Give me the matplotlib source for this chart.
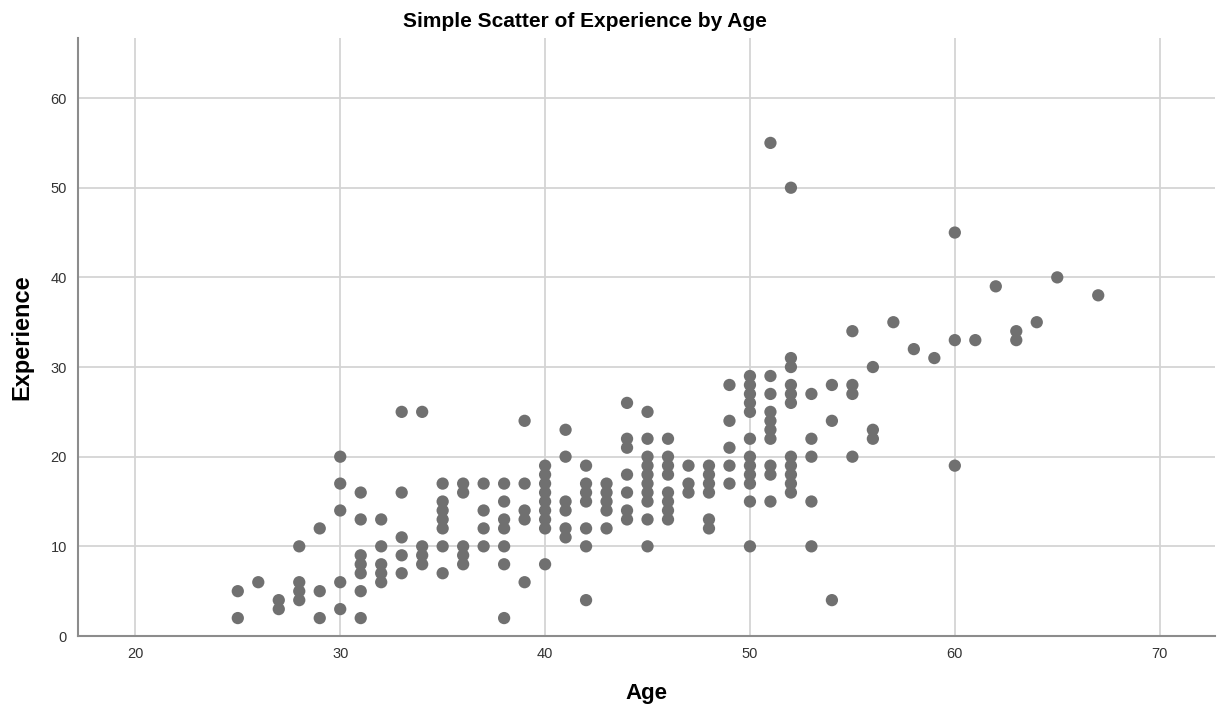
import matplotlib
matplotlib.use('Agg')
import matplotlib.pyplot as plt

plt.rcParams['font.family'] = ['Liberation Sans', 'DejaVu Sans']

# points per age: (age, [experience values])
ages_exp = [
    (25, [5, 2]),
    (26, [6]),
    (27, [4, 3]),
    (28, [10, 6, 5, 4]),
    (29, [12, 5, 2]),
    (30, [20, 17, 14, 6, 3]),
    (31, [16, 13, 9, 8, 7, 5, 2]),
    (32, [13, 10, 8, 7, 6]),
    (33, [25, 16, 11, 9, 7]),
    (34, [25, 10, 9, 8]),
    (35, [17, 15, 14, 13, 12, 10, 7]),
    (36, [17, 16, 10, 9, 8]),
    (37, [17, 14, 12, 10]),
    (38, [17, 15, 13, 12, 10, 8, 2]),
    (39, [24, 17, 14, 13, 6]),
    (40, [19, 18, 17, 16, 15, 14, 13, 12, 8]),
    (41, [23, 20, 15, 14, 12, 11]),
    (42, [19, 17, 16, 15, 12, 10, 4]),
    (43, [17, 16, 15, 14, 12]),
    (44, [26, 22, 21, 18, 16, 14, 13]),
    (45, [25, 22, 20, 19, 18, 17, 16, 15, 13, 10]),
    (46, [22, 20, 19, 18, 16, 15, 14, 13]),
    (47, [19, 17, 16]),
    (48, [19, 18, 17, 16, 13, 12]),
    (49, [28, 24, 21, 19, 17]),
    (50, [29, 28, 27, 26, 25, 22, 20, 19, 18, 17, 15, 10]),
    (51, [55, 29, 27, 25, 24, 23, 22, 19, 18, 15]),
    (52, [50, 31, 30, 28, 27, 26, 20, 19, 18, 17, 16]),
    (53, [27, 22, 20, 15, 10]),
    (54, [28, 24, 4]),
    (55, [34, 28, 27, 20]),
    (56, [30, 23, 22]),
    (57, [35]),
    (58, [32]),
    (59, [31]),
    (60, [45, 33, 19]),
    (61, [33]),
    (62, [39]),
    (63, [34, 33]),
    (64, [35]),
    (65, [40]),
    (67, [38]),
]

age = []
experience = []
for a, vals in ages_exp:
    for v in vals:
        age.append(a)
        experience.append(v)

x_ticks = [20, 30, 40, 50, 60, 70]
y_ticks = [0, 10, 20, 30, 40, 50, 60]

fig = plt.figure(figsize=(12.21, 7.09), dpi=100)
ax = fig.add_axes([78/1221, 73/709, (1215-78)/1221, (636-38)/709])

ax.scatter(age, experience, s=78, color='#707070', edgecolors='none', zorder=3)

ax.set_xlim(17.2, 72.7)
ax.set_ylim(0, 66.7)
ax.set_xticks(x_ticks)
ax.set_yticks(y_ticks)
ax.grid(True, color='#d4d4d4', linewidth=1.3, zorder=0)
ax.set_axisbelow(True)
ax.tick_params(length=0, labelsize=10.5, colors='#333333', pad=8)

for s in ['top', 'right']:
    ax.spines[s].set_visible(False)
for s in ['left', 'bottom']:
    ax.spines[s].set_color('#8c8c8c')
    ax.spines[s].set_linewidth(1.5)

# title sits a bit left of the axes centre in the original
ax.set_title('Simple Scatter of Experience by Age', fontsize=15, fontweight='bold',
             x=0.446, pad=8)
ax.set_xlabel('Age', fontsize=16, fontweight='bold', labelpad=16)
ax.set_ylabel('Experience', fontsize=17, fontweight='bold', labelpad=12)

fig.savefig('out.png', dpi=100)
